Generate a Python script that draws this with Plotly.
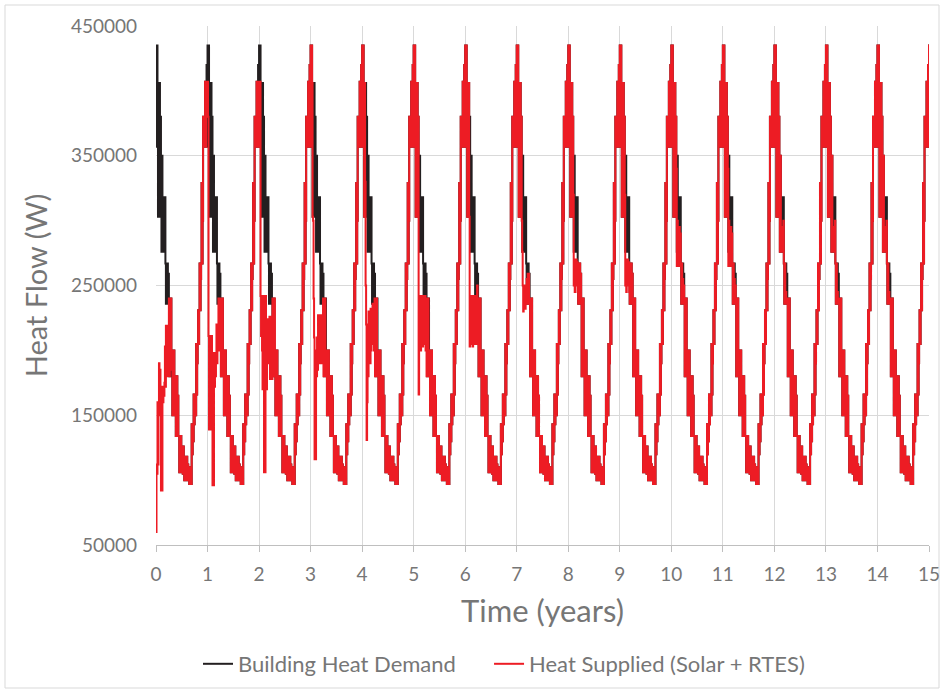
import plotly.graph_objects as go

# ---- data (one annual cycle, 104 half-week steps) ----
demand_profile = [
    435000, 357000, 435000, 406000, 303000, 406000, 330000, 406000, 303000, 380000,
    350000, 276000, 350000, 300000, 318000, 276000, 318000, 300000, 318000, 267000,
    236000, 267000, 250000, 267000, 236000, 259000, 240000, 180000, 240000, 200000,
    240000, 180000, 200000, 150000, 200000, 165000, 200000, 150000, 180000, 180000,
    134000, 165000, 180000, 140000, 165000, 134000, 134000, 106000, 128000, 115000,
    134000, 106000, 126000, 118000, 105000, 126000, 112000, 100000, 118000, 108000,
    112000, 100000, 118000, 105000, 112000, 100000, 110000, 97000, 110000, 103000,
    110000, 97000, 143000, 120000, 143000, 130000, 166000, 143000, 160000, 166000,
    150000, 205000, 166000, 190000, 205000, 231000, 205000, 231000, 267000, 231000,
    255000, 267000, 329000, 267000, 300000, 380000, 357000, 370000, 380000, 407000,
    357000, 395000, 420000, 380000,
]

# heat supplied during the start of each year (rest of year equals demand)
spring_y0 = [60000, 112000, 105000, 160000, 112000, 155000, 190000, 160000, 185000, 150000,
             92000, 120000, 92000, 172000, 160000, 172000, 165000, 175000, 203000, 172000,
             219000, 203000, 219000, 180000, 210000, 200000, 240000, 180000, 238000, 200000,
             240000, 185000]
spring_y1 = [407000, 380000, 211000, 139000, 211000, 139000, 200000, 180000, 211000, 180000,
             96000, 120000, 96000, 198000, 172000, 198000, 180000, 198000, 220000, 190000,
             220000, 200000, 240000, 200000, 240000, 210000, 240000, 180000, 240000, 200000,
             240000, 180000]
spring_y2 = [407000, 357000, 407000, 242000, 211000, 242000, 200000, 170000, 242000, 211000,
             106000, 130000, 106000, 242000, 190000, 170000, 224000, 200000, 224000, 190000,
             224000, 226000, 178000, 226000, 200000, 226000, 178000, 240000, 180000, 240000,
             200000, 240000]
spring_y3 = [435000, 357000, 435000, 406000, 303000, 300000, 240000, 210000, 116000, 150000,
             116000, 200000, 180000, 210000, 185000, 227000, 190000, 227000, 200000, 227000,
             190000, 227000, 210000, 227000, 190000, 240000, 180000, 240000, 200000, 240000,
             180000, 200000]
spring_y4 = [435000, 357000, 435000, 406000, 303000, 406000, 330000, 250000, 220000, 131000,
             160000, 220000, 180000, 230000, 200000, 230000, 190000, 232000, 200000, 232000,
             205000, 236000, 210000, 236000, 200000, 240000, 180000, 240000, 200000, 240000,
             180000, 200000]
spring_y5 = [435000, 357000, 435000, 406000, 303000, 406000, 330000, 406000, 303000, 380000,
             166000, 240000, 205000, 242000, 200000, 242000, 210000, 242000, 203000, 242000,
             205000, 240000, 210000, 242000, 200000, 240000, 180000, 240000, 200000, 240000,
             180000, 200000]
spring_y6 = [435000, 357000, 435000, 406000, 303000, 406000, 330000, 406000, 303000, 203000,
             242000, 205000, 242000, 210000, 242000, 203000, 242000, 210000, 242000, 205000,
             240000, 210000, 242000, 205000, 250000, 220000, 240000, 180000]
spring_y7 = [435000, 357000, 435000, 406000, 303000, 406000, 330000, 406000, 303000, 380000,
             300000, 276000, 250000, 230000, 245000, 235000, 250000, 232000, 250000, 240000,
             255000, 236000, 259000, 236000, 259000, 240000]
spring_y8 = [435000, 357000, 435000, 406000, 303000, 406000, 330000, 406000, 303000, 380000,
             320000, 250000, 270000, 245000, 265000, 250000, 270000, 250000, 268000, 245000,
             236000, 267000, 250000, 267000, 236000, 259000]
spring_y10 = [435000, 357000, 435000, 406000, 303000, 406000, 330000, 406000, 303000, 380000,
              340000, 265000, 300000, 275000, 290000, 265000, 295000, 270000, 290000, 267000,
              236000, 267000, 250000, 255000, 236000, 250000]
spring_y12 = [435000, 357000, 435000, 406000, 303000, 406000, 330000, 406000, 303000, 380000,
              350000, 276000, 350000, 285000, 290000, 276000, 295000, 280000, 300000, 267000,
              236000, 267000, 240000, 245000, 236000, 240000]
fall_y0_y1 = [407000, 357000, 395000, 407000, 380000]   # last 5 steps of years 0 and 1

spring_by_year = [spring_y0, spring_y1, spring_y2, spring_y3, spring_y4, spring_y5,
                  spring_y6, spring_y7, spring_y8, spring_y8, spring_y10, spring_y10,
                  spring_y12, spring_y12, spring_y12]

y_ticks = [50000, 150000, 250000, 350000, 450000]
x_ticks = list(range(0, 16))

# ---- assemble the series ----
steps = len(demand_profile)
t, demand, supply = [], [], []
for yr, spring in enumerate(spring_by_year):
    for i in range(steps):
        t.append(yr + i / steps)
        demand.append(demand_profile[i])
        if i < len(spring):
            s = spring[i]
        elif yr in (0, 1) and i >= steps - len(fall_y0_y1):
            s = fall_y0_y1[i - (steps - len(fall_y0_y1))]
        else:
            s = demand_profile[i]
        supply.append(s)
for i in range(5):
    t.append(15 + i / steps)
    demand.append(demand_profile[i])
    supply.append(demand_profile[i])

FONT = "Lato"
GREY = "#767676"
NB = "\u00a0"

fig = go.Figure()
fig.add_trace(go.Scatter(x=t, y=demand, mode="lines",
                         name="Building Heat Demand" + NB * 5,
                         line=dict(color="#231F20", width=2, shape="hv")))
fig.add_trace(go.Scatter(x=t, y=supply, mode="lines",
                         name="Heat Supplied (Solar + RTES)",
                         line=dict(color="#ED1C24", width=2, shape="hv")))

fig.update_layout(
    width=944, height=693,
    margin=dict(l=156, r=15, t=26, b=148, autoexpand=False),
    paper_bgcolor="white", plot_bgcolor="white",
    font=dict(family=FONT, color=GREY, size=19),
    showlegend=True,
    legend=dict(orientation="h", x=(198 - 156) / 773, xanchor="left",
                y=(545 - 664) / 519, yanchor="middle",
                font=dict(size=22, color=GREY), itemwidth=30, tracegroupgap=0),
    xaxis=dict(range=[0, 15], tickmode="array", tickvals=x_ticks,
               showgrid=True, gridcolor="#D9D9D9", gridwidth=1,
               showline=True, linecolor="#BFBFBF", linewidth=1,
               ticks="outside", ticklen=6, tickcolor="#BFBFBF",
               ticklabelstandoff=6,
               tickfont=dict(size=19, color=GREY), zeroline=False,
               title=dict(text="Time (years)", font=dict(size=31, color=GREY), standoff=16)),
    yaxis=dict(range=[50000, 450000], tickmode="array", tickvals=y_ticks,
               ticktext=[str(v) for v in y_ticks],
               showgrid=True, gridcolor="#D9D9D9", gridwidth=1,
               showline=False, zeroline=False, ticks="",
               ticklabelstandoff=18,
               tickfont=dict(size=19, color=GREY),
               title=dict(text="Heat Flow (W)", font=dict(size=29, color=GREY), standoff=14)),
)

# light chart-area border
fig.add_shape(type="rect", xref="paper", yref="paper",
              x0=(5 - 156) / 773, x1=(939 - 156) / 773,
              y0=(545 - 688) / 519, y1=(545 - 5) / 519,
              line=dict(color="#D9D9D9", width=1), layer="below")

fig.write_html("out.html", config={"displayModeBar": False},
               post_script="document.body.style.margin='0px';")
